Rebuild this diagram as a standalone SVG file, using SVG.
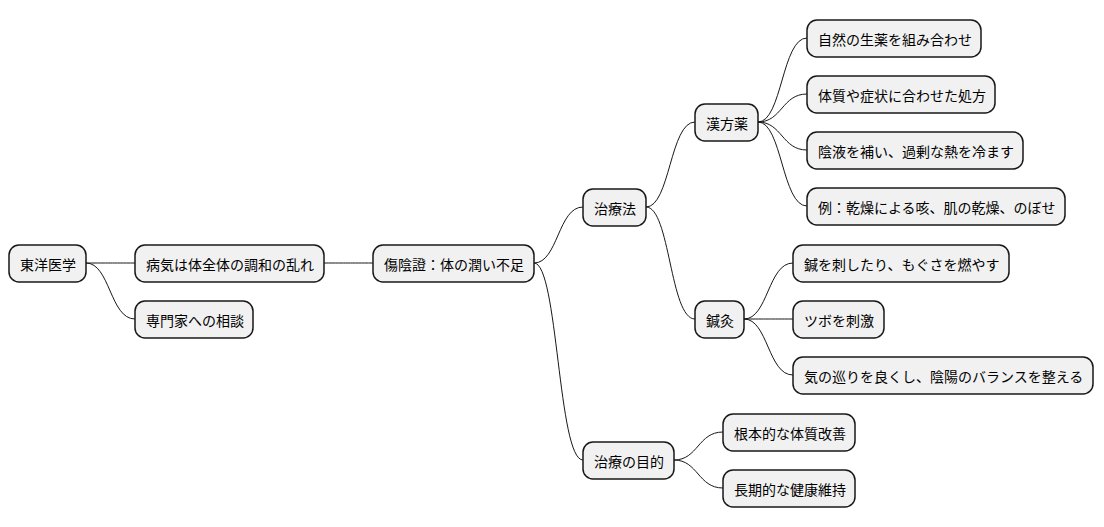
<svg xmlns="http://www.w3.org/2000/svg" width="1104" height="527" viewBox="0 0 1104 527">
<style>
.n rect{fill:#F1F1F1;stroke:#181818;stroke-width:1.5}
.n text{font-family:"Noto Sans CJK JP","Noto Sans",sans-serif;font-size:14px;fill:#000;dominant-baseline:central}
.c path{fill:none;stroke:#181818;stroke-width:1}
</style>
<rect width="1104" height="527" fill="#fff"/>
<g class="c">
<path d="M86 263 C110 263 110 263 135 263"/>
<path d="M86 263 C110 263 110 319 135 319"/>
<path d="M324 263 C348 263 348 263 373 263"/>
<path d="M534 263 C558 263 558 207 583 207"/>
<path d="M534 263 C558 263 558 460 583 460"/>
<path d="M646 207 C670 207 670 122 695 122"/>
<path d="M646 207 C670 207 670 319 695 319"/>
<path d="M674 460 C698 460 698 432 723 432"/>
<path d="M674 460 C698 460 698 488 723 488"/>
<path d="M758 122 C782 122 782 38 807 38"/>
<path d="M758 122 C782 122 782 94 807 94"/>
<path d="M758 122 C782 122 782 150 807 150"/>
<path d="M758 122 C782 122 782 206 807 206"/>
<path d="M744 319 C768 319 768 263 793 263"/>
<path d="M744 319 C768 319 768 319 793 319"/>
<path d="M744 319 C768 319 768 375 793 375"/>
</g>
<g id="n1" class="n"><rect x="9" y="245" width="77" height="37" rx="10"/><text x="20" y="263.5">東洋医学</text></g>
<g id="n2" class="n"><rect x="135" y="245" width="189" height="37" rx="10"/><text x="146" y="263.5">病気は体全体の調和の乱れ</text></g>
<g id="n3" class="n"><rect x="135" y="301" width="118" height="37" rx="10"/><text x="146" y="319.5">専門家への相談</text></g>
<g id="n4" class="n"><rect x="373" y="245" width="161" height="37" rx="10"/><text x="384" y="263.5">傷陰證：体の潤い不足</text></g>
<g id="n5" class="n"><rect x="583" y="189" width="63" height="37" rx="10"/><text x="594" y="207.5">治療法</text></g>
<g id="n6" class="n"><rect x="583" y="442" width="91" height="37" rx="10"/><text x="594" y="460.5">治療の目的</text></g>
<g id="n7" class="n"><rect x="695" y="104" width="63" height="37" rx="10"/><text x="706" y="122.5">漢方薬</text></g>
<g id="n8" class="n"><rect x="695" y="301" width="49" height="37" rx="10"/><text x="706" y="319.5">鍼灸</text></g>
<g id="n9" class="n"><rect x="807" y="20" width="174" height="37" rx="10"/><text x="818" y="38.5">自然の生薬を組み合わせ</text></g>
<g id="n10" class="n"><rect x="807" y="76" width="188" height="37" rx="10"/><text x="818" y="94.5">体質や症状に合わせた処方</text></g>
<g id="n11" class="n"><rect x="807" y="132" width="216" height="37" rx="10"/><text x="818" y="150.5">陰液を補い、過剰な熱を冷ます</text></g>
<g id="n12" class="n"><rect x="807" y="188" width="258" height="37" rx="10"/><text x="818" y="206.5">例：乾燥による咳、肌の乾燥、のぼせ</text></g>
<g id="n13" class="n"><rect x="793" y="245" width="216" height="37" rx="10"/><text x="804" y="263.5">鍼を刺したり、もぐさを燃やす</text></g>
<g id="n14" class="n"><rect x="793" y="301" width="91" height="37" rx="10"/><text x="804" y="319.5">ツボを刺激</text></g>
<g id="n15" class="n"><rect x="793" y="357" width="300" height="37" rx="10"/><text x="804" y="375.5">気の巡りを良くし、陰陽のバランスを整える</text></g>
<g id="n16" class="n"><rect x="723" y="414" width="132" height="37" rx="10"/><text x="734" y="432.5">根本的な体質改善</text></g>
<g id="n17" class="n"><rect x="723" y="470" width="132" height="37" rx="10"/><text x="734" y="488.5">長期的な健康維持</text></g>
</svg>
